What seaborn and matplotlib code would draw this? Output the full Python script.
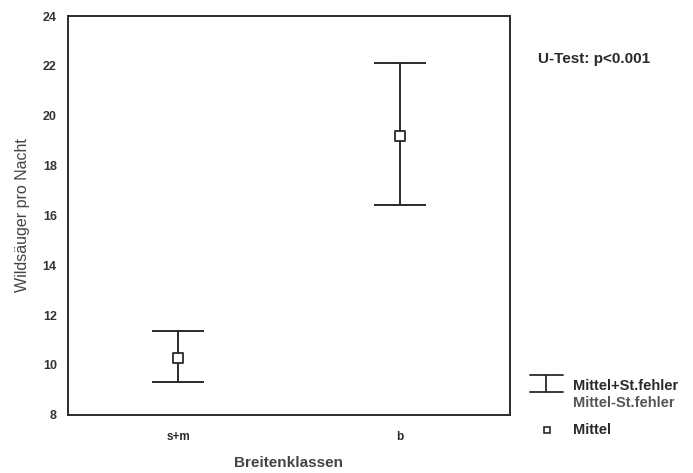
import numpy as np
import matplotlib
matplotlib.use("Agg")
import matplotlib.pyplot as plt
import seaborn as sns
from matplotlib.lines import Line2D

classes = ["s+m", "b"]
means = [10.3, 19.2]
upper = [11.35, 22.1]
lower = [9.3, 16.4]
yticks = [8, 10, 12, 14, 16, 18, 20, 22, 24]

sns.set_style("white")
plt.rcParams['font.family'] = ['Liberation Sans', 'DejaVu Sans']
ink = "#2a2a2a"

fig = plt.figure(figsize=(6.93, 4.73), dpi=100)
ax = fig.add_axes([0.098, 0.123, 0.638, 0.843])

x = np.arange(len(classes))
m = np.array(means)
err = [m - np.array(lower), np.array(upper) - m]
ax.errorbar(x, m, yerr=err, fmt="none", ecolor=ink, elinewidth=1.4,
            capsize=19, capthick=1.4, zorder=2)
sns.scatterplot(x=x, y=m, marker="s", s=45, color="white",
                edgecolor=ink, linewidth=1.3, ax=ax, zorder=3)

ax.set_xlim(-0.5, 1.5)
ax.set_ylim(8, 24)
ax.set_xticks(x)
ax.set_xticklabels(classes, fontsize=8.5, fontweight="bold", color=ink)
ax.set_yticks(yticks)
ax.set_yticklabels([str(t) for t in yticks], fontsize=9, fontweight="bold", color="#333")
ax.tick_params(axis="both", direction="in", length=3, width=0.8, color=ink, pad=8)
ax.tick_params(axis="x", pad=12)
for s in ax.spines.values():
    s.set_color(ink)
    s.set_linewidth(1.4)

ax.set_xlabel("Breitenklassen", fontsize=11, fontweight="bold", color="#444", labelpad=9)
ax.set_ylabel("Wildsäuger pro Nacht", fontsize=11.5, color="#444", labelpad=9)

fig.text(0.776, 0.876, "U-Test: p<0.001", fontsize=11, fontweight="bold",
         color=ink, va="center")

# legend drawn by hand, outside the axes
fig.add_artist(Line2D([0.765, 0.812], [0.207, 0.207], color=ink, lw=1.3))
fig.add_artist(Line2D([0.788, 0.788], [0.207, 0.171], color=ink, lw=1.3))
fig.add_artist(Line2D([0.765, 0.812], [0.171, 0.171], color=ink, lw=1.3))
fig.text(0.827, 0.184, "Mittel+St.fehler", fontsize=10.5, fontweight="bold",
         color=ink, va="center")
fig.text(0.827, 0.148, "Mittel-St.fehler", fontsize=10.5, fontweight="bold",
         color="#555", va="center")
fig.add_artist(Line2D([0.789], [0.091], marker="s", ms=5, mfc="white",
                      mec=ink, mew=1.2, linestyle="none"))
fig.text(0.827, 0.091, "Mittel", fontsize=10.5, fontweight="bold",
         color=ink, va="center")

fig.savefig("out.png", dpi=100)
